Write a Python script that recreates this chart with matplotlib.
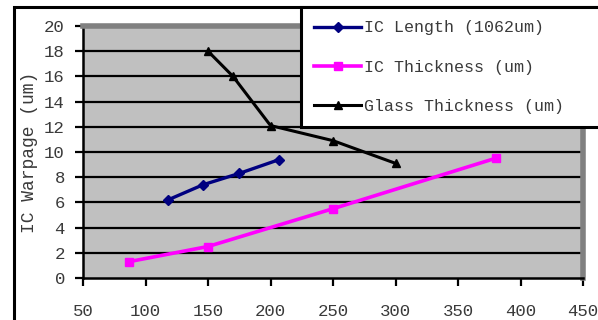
import matplotlib
matplotlib.use("Agg")
import matplotlib.pyplot as plt
from matplotlib.patches import Rectangle

# Data
len_x = [118, 146, 175, 207]
len_y = [6.2, 7.4, 8.3, 9.4]
icth_x = [87, 150, 250, 380]
icth_y = [1.3, 2.5, 5.5, 9.5]
glass_x = [150, 170, 200, 250, 300]
glass_y = [18.0, 16.0, 12.1, 10.9, 9.1]
labels = ["IC Length (1062um)", "IC Thickness (um)", "Glass Thickness (um)"]
xticks = [50, 100, 150, 200, 250, 300, 350, 400, 450]
yticks = [0, 2, 4, 6, 8, 10, 12, 14, 16, 18, 20]

W, H = 598, 320
fig = plt.figure(figsize=(W / 100, H / 100), dpi=100)
fig.patch.set_facecolor("white")

ax = fig.add_axes([83 / W, 1 - 278 / H, 500 / W, 252 / H])
ax.set_facecolor("#C0C0C0")
ax.set_xlim(50, 450)
ax.set_ylim(0, 20)
ax.set_xticks(xticks)
ax.set_yticks(yticks)
for y in yticks[1:-1]:
    ax.axhline(y, color="black", lw=1.6, zorder=1)

tfont = dict(family="Liberation Mono", size=12.5, color="#3a3a3a")
ax.set_xticklabels([str(v) for v in xticks], **tfont)
ax.set_yticklabels([str(v) for v in yticks], **tfont)
ax.tick_params(axis="x", direction="out", length=6, width=1.6, pad=13)
ax.tick_params(axis="y", direction="out", length=6, width=1.6, pad=7)

for s in ["left", "bottom"]:
    ax.spines[s].set_color("black")
    ax.spines[s].set_linewidth(1.8)
for s in ["top", "right"]:
    ax.spines[s].set_color("#808080")
    ax.spines[s].set_linewidth(4)

l1, = ax.plot(len_x, len_y, color="#000080", lw=2.4, marker="D", ms=5, zorder=3)
l2, = ax.plot(icth_x, icth_y, color="#FF00FF", lw=2.6, marker="s", ms=6, zorder=3)
l3, = ax.plot(glass_x, glass_y, color="black", lw=2.2, marker="^", ms=6, zorder=3)

fig.text(30 / W, 1 - 152 / H, "IC Warpage (um)", rotation=90, ha="center", va="center",
         family="Liberation Mono", size=13, color="#3a3a3a")

# outer frame
fig.patches.append(Rectangle((14 / W, -0.1), 1.2, 1 - 7 / H + 0.1, transform=fig.transFigure,
                             fill=False, edgecolor="black", lw=2.2, zorder=0))

leg = fig.legend([l1, l2, l3], labels, loc="upper left",
                 bbox_to_anchor=(301 / W, 1 - 128 / H, 300 / W, 121 / H), mode="expand",
                 prop=dict(family="Liberation Mono", size=12), frameon=True, fancybox=False,
                 edgecolor="black", framealpha=1, borderpad=0.8, labelspacing=1.45,
                 handlelength=2.8, handletextpad=0.2, borderaxespad=0)
leg.get_frame().set_linewidth(2.2)
for t in leg.get_texts():
    t.set_color("#3a3a3a")

fig.savefig("out.png", dpi=100)
